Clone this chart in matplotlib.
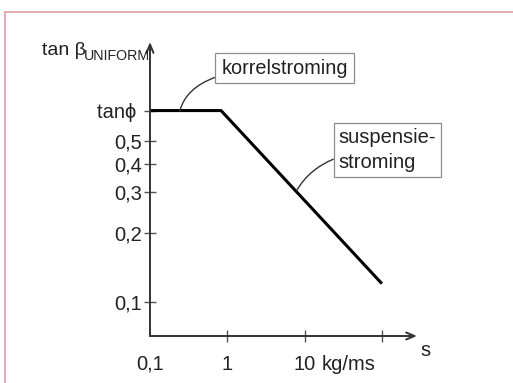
import matplotlib
matplotlib.use("Agg")
import matplotlib.pyplot as plt
from matplotlib.patches import Rectangle

plt.rcParams['font.family'] = ['Liberation Sans', 'DejaVu Sans']

# data (log-log)
flux = [0.1, 0.83, 100]            # s [kg/ms]
tan_beta = [0.68, 0.68, 0.12]      # tan beta_UNIFORM
xticks = [0.1, 1, 10, 100]
xlabels = ['0,1', '1', '10', '']
yticks = [0.1, 0.2, 0.3, 0.4, 0.5, 0.68]
ylabels = ['0,1', '0,2', '0,3', '0,4', '0,5', 'tan\u03d5 ']

W, H = 513, 383
fig = plt.figure(figsize=(W / 100, H / 100), dpi=100)

# pink frame round the picture
fig.patches.append(Rectangle((4.5 / W, -0.05), 1.1, 1 - 11.5 / H + 0.05,
                             transform=fig.transFigure, fill=False,
                             ec='#d8949c', lw=1.1))

ax = fig.add_axes([150 / W, 47 / H, 267 / W, 294 / H])
ax.patch.set_visible(False)
ax.set_xscale('log')
ax.set_yscale('log')
ax.set_xlim(0.1, 284.7)
ax.set_ylim(0.0710, 1.352)
for sp in ax.spines.values():
    sp.set_visible(False)

ax.plot(flux, tan_beta, color='black', lw=2.2, solid_capstyle='butt')

# axes with arrows
axcol = '#333333'
ax.annotate('', xy=(1, 0), xytext=(0, 0), xycoords='axes fraction',
            arrowprops=dict(arrowstyle='->,head_length=0.6,head_width=0.25',
                            color=axcol, lw=1.4, shrinkA=0, shrinkB=0))
ax.annotate('', xy=(0, 1), xytext=(0, 0), xycoords='axes fraction',
            arrowprops=dict(arrowstyle='->,head_length=0.6,head_width=0.25',
                            color=axcol, lw=1.4, shrinkA=0, shrinkB=0))

ax.minorticks_off()
ax.set_xticks(xticks)
ax.set_xticklabels(xlabels)
ax.set_yticks(yticks)
ax.set_yticklabels(ylabels)
ax.xaxis.get_major_ticks()[0].tick1line.set_visible(False)
ax.tick_params(direction='inout', length=9, width=1, color='#555555',
               labelsize=14.5, labelcolor='#222222')
ax.tick_params(axis='x', pad=9)
ax.tick_params(axis='y', pad=1.5)

# axis titles
fig.text(42 / W, 328 / H, 'tan \u03b2', fontsize=14, va='baseline', color='#222222')
fig.text(84 / W, 323 / H, 'UNIFORM', fontsize=10.3, va='baseline', color='#222222')
fig.text(425 / W, 32 / H, 's', fontsize=14.5, ha='center', va='center', color='#222222')
# unit sits next to the "10" tick label, same top as the tick labels
top_px = 47 - (4.5 + 9) * 100 / 72
fig.text(322 / W, top_px / H, 'kg/ms', fontsize=14.5, va='top', color='#222222')

# callouts
box = dict(boxstyle='square,pad=0.3', fc='white', ec='#8c8c8c', lw=0.9)
ax.annotate('korrelstroming', xy=(0.244, 0.68), xytext=(284.5, 315),
            textcoords='figure pixels', ha='center', va='center',
            fontsize=14.3, color='#222222', bbox=box,
            arrowprops=dict(arrowstyle='-', color=axcol, lw=1, shrinkA=0, shrinkB=0,
                            connectionstyle='angle3,angleA=0,angleB=75'))
ax.annotate('suspensie-\nstroming', xy=(7.9, 0.305), xytext=(387.5, 233),
            textcoords='figure pixels', ha='center', va='center',
            multialignment='left', linespacing=1.35,
            fontsize=14.5, color='#222222',
            bbox=dict(boxstyle='square,pad=0.25', fc='white', ec='#8c8c8c', lw=0.9),
            arrowprops=dict(arrowstyle='-', color=axcol, lw=1, shrinkA=0, shrinkB=0,
                            connectionstyle='angle3,angleA=0,angleB=60'))

fig.savefig('out.png', dpi=100)
